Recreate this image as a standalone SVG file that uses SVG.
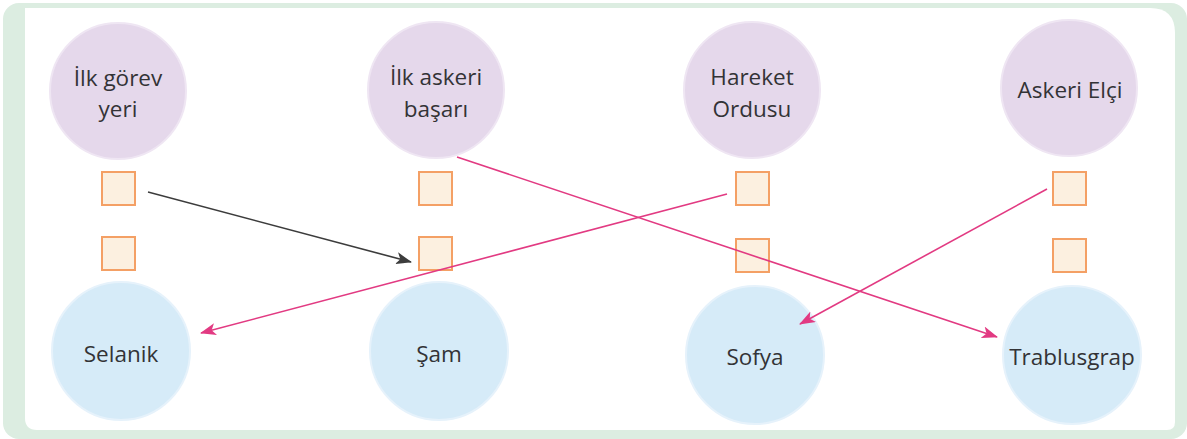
<svg xmlns="http://www.w3.org/2000/svg" width="1187" height="439" viewBox="0 0 1187 439">
<defs>
<style>
.frame{fill:#dcede1}
.panel{fill:#ffffff}
.top{fill:#e5d8eb;stroke:#efe6f3;stroke-width:2}
.bot{fill:#d6ebf8;stroke:#e6f2fb;stroke-width:2}
.box{fill:#fcf0e0;stroke:#f4a065;stroke-width:2}
.t{font-family:"Open Sans","Noto Sans",sans-serif;font-size:22.5px;fill:#333336;text-anchor:middle}
.pink{stroke:#e23a82;stroke-width:1.6;fill:none}
.dark{stroke:#3c3c3c;stroke-width:1.6;fill:none}
</style>
<marker id="ap" viewBox="0 0 16 12" refX="15" refY="6" markerWidth="16" markerHeight="12" markerUnits="userSpaceOnUse" orient="auto">
<path d="M0,0 L16,6 L0,12 L4,6 z" fill="#e23a82"/>
</marker>
<marker id="ad" viewBox="0 0 16 12" refX="15" refY="6" markerWidth="16" markerHeight="12" markerUnits="userSpaceOnUse" orient="auto">
<path d="M0,0 L16,6 L0,12 L4,6 z" fill="#3c3c3c"/>
</marker>
</defs>
<rect class="frame" x="3" y="3" width="1184" height="436" rx="16"/>
<path class="panel" d="M25,8 H1150 Q1175,8 1175,33 V422 Q1175,430 1167,430 H37 Q25,430 25,418 Z"/>

<g id="n-ilk-gorev">
<circle class="top" cx="118" cy="91" r="68"/>
<text class="t" x="118" y="86">İlk görev</text>
<text class="t" x="118" y="117">yeri</text>
</g>
<g id="n-ilk-askeri">
<circle class="top" cx="436" cy="90" r="68"/>
<text class="t" x="436" y="85">İlk askeri</text>
<text class="t" x="436" y="117">başarı</text>
</g>
<g id="n-hareket">
<circle class="top" cx="752" cy="90" r="68"/>
<text class="t" x="752" y="85">Hareket</text>
<text class="t" x="752" y="117">Ordusu</text>
</g>
<g id="n-askeri-elci">
<circle class="top" cx="1069" cy="88" r="68"/>
<text class="t" x="1070" y="98">Askeri Elçi</text>
</g>

<g id="boxes">
<rect class="box" x="102" y="172" width="33" height="33"/>
<rect class="box" x="102" y="237" width="33" height="33"/>
<rect class="box" x="419" y="172" width="33" height="33"/>
<rect class="box" x="419" y="237" width="33" height="33"/>
<rect class="box" x="736" y="172" width="33" height="33"/>
<rect class="box" x="736" y="239" width="33" height="33"/>
<rect class="box" x="1053" y="172" width="33" height="33"/>
<rect class="box" x="1053" y="239" width="33" height="33"/>
</g>

<g id="n-selanik">
<circle class="bot" cx="121" cy="351" r="69"/>
<text class="t" x="121" y="362">Selanik</text>
</g>
<g id="n-sam">
<circle class="bot" cx="439" cy="351" r="69"/>
<text class="t" x="439" y="362">Şam</text>
</g>
<g id="n-sofya">
<circle class="bot" cx="755" cy="355" r="69"/>
<text class="t" x="755" y="365">Sofya</text>
</g>
<g id="n-trablusgrap">
<circle class="bot" cx="1072" cy="355" r="69"/>
<text class="t" x="1072" y="365">Trablusgrap</text>
</g>

<g id="connectors">
<line class="dark" x1="148" y1="192" x2="411" y2="262" marker-end="url(#ad)"/>
<line class="pink" x1="457" y1="157" x2="997" y2="337" marker-end="url(#ap)"/>
<line class="pink" x1="727" y1="194" x2="201" y2="333" marker-end="url(#ap)"/>
<line class="pink" x1="1047" y1="189" x2="800" y2="324" marker-end="url(#ap)"/>
</g>
</svg>
